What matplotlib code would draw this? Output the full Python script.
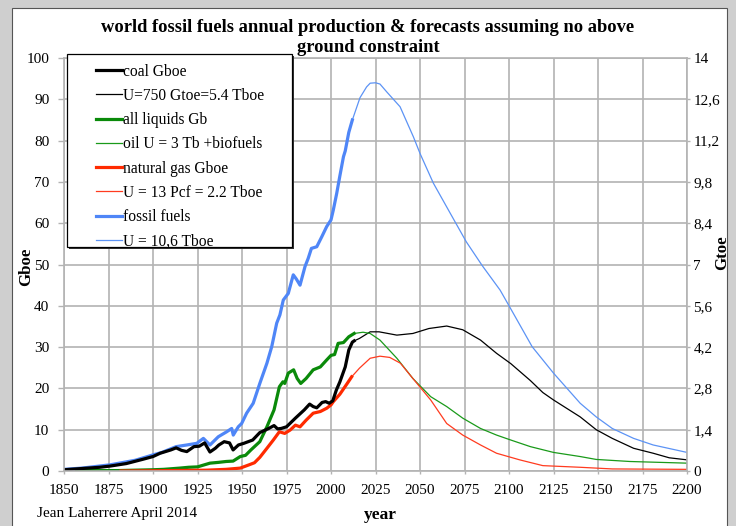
import matplotlib
matplotlib.use('Agg')
import matplotlib.pyplot as plt
from matplotlib.patches import Rectangle
from matplotlib.ticker import FixedLocator
from matplotlib.legend_handler import HandlerLine2D

# historical production (thick lines)
coal_years = [1850, 1860, 1870, 1876, 1885, 1894, 1900, 1904, 1910, 1913, 1916, 1919, 1923, 1926,
              1929, 1932, 1935, 1937, 1940, 1943, 1945, 1948, 1951, 1956, 1960, 1965, 1968, 1970,
              1972, 1975, 1980, 1985, 1988, 1990, 1992, 1995, 1997, 1999, 2001, 2003, 2005, 2008,
              2010, 2012, 2013]
coal_vals = [0.3, 0.6, 0.9, 1.2, 1.8, 2.8, 3.5, 4.3, 5.1, 5.6, 5.0, 4.7, 5.9, 6.0,
             6.8, 4.6, 5.5, 6.3, 7.1, 6.8, 5.1, 6.3, 6.7, 7.5, 9.3, 10.3, 11.0, 10.2,
             10.3, 10.7, 12.8, 14.8, 16.2, 15.6, 15.3, 16.6, 16.8, 16.4, 17.0, 19.6, 21.6, 25.2,
             29.3, 31.2, 31.5]

liq_years = [1857, 1880, 1900, 1906, 1915, 1920, 1925, 1932, 1937, 1941, 1945, 1949, 1952, 1955,
             1960, 1964, 1968, 1971, 1973, 1974, 1976, 1979, 1981, 1983, 1986, 1990, 1994, 1997.6,
             2000, 2002, 2004, 2007, 2010, 2013]
liq_vals = [0.1, 0.1, 0.3, 0.4, 0.7, 0.9, 1.0, 1.9, 2.1, 2.3, 2.4, 3.5, 3.8, 5.1,
            7.1, 10.7, 14.8, 20.4, 21.6, 21.2, 23.7, 24.5, 22.4, 21.2, 22.4, 24.5, 25.2, 26.9,
            28.0, 28.2, 30.9, 31.1, 32.5, 33.3]

gas_years = [1882, 1900, 1930, 1941, 1949, 1954, 1957, 1960, 1964, 1967.6, 1971, 1974, 1977, 1980,
             1982.6, 1986, 1990, 1994, 1997.6, 2000, 2001.3, 2005, 2008.8, 2011.6]
gas_vals = [0.0, 0.05, 0.2, 0.4, 0.7, 1.5, 2.0, 3.3, 5.5, 7.5, 9.5, 9.1, 9.9, 11.1,
            10.7, 12.3, 14.0, 14.4, 15.2, 16.0, 16.8, 18.6, 21.0, 22.8]

ff_years = [1850, 1860, 1876, 1890, 1900, 1905, 1913, 1919, 1924.6, 1928.3, 1932, 1936.7, 1941.4,
            1944.2, 1945.1, 1947.9, 1949.8, 1952.6, 1956.3, 1960, 1964, 1966.7, 1969.5, 1971.3,
            1973.2, 1976, 1978.8, 1980.5, 1982.6, 1985.4, 1987.2, 1989, 1992, 1994.8, 1997.6,
            2000, 2001.3, 2003.2, 2005, 2007, 2008, 2010, 2012]
ff_vals = [0.4, 0.7, 1.5, 2.6, 3.9, 4.5, 5.9, 6.3, 6.7, 7.9, 6.3, 8.3, 9.5,
           10.3, 8.7, 10.7, 11.5, 14.0, 16.4, 21.2, 26.1, 30.1, 35.8, 37.8,
           41.4, 43.0, 47.5, 46.5, 45.0, 49.5, 51.5, 53.9, 54.3, 56.7, 59.2,
           60.8, 63.2, 67.2, 71.5, 76.1, 77.5, 82.0, 85.0]

# forecasts (thin lines)
coal_fc_years = [2013, 2016, 2022, 2027, 2032, 2037, 2046, 2055, 2065, 2074, 2084, 2093, 2101,
                 2112, 2119, 2125, 2140, 2149, 2158, 2170, 2181, 2190, 2200]
coal_fc_vals = [31.5, 32.1, 33.7, 33.7, 33.3, 32.9, 33.3, 34.5, 35.1, 34.2, 31.7, 28.5, 26.0,
                21.9, 19.0, 17.2, 13.1, 10.0, 7.9, 5.5, 4.3, 3.2, 2.7]

liq_fc_years = [2013, 2018, 2022, 2027.5, 2037, 2046, 2056, 2065, 2074, 2084, 2093, 2101, 2112,
                2125, 2140, 2149, 2168, 2200]
liq_fc_vals = [33.3, 33.6, 33.3, 31.7, 27.3, 22.4, 18.0, 15.6, 12.8, 10.3, 8.7, 7.5, 5.9,
               4.5, 3.5, 2.8, 2.3, 1.9]

gas_fc_years = [2011.6, 2016, 2022, 2027.5, 2033, 2039, 2046, 2056, 2065, 2074, 2084, 2093, 2106,
                2119, 2140, 2158, 2200]
gas_fc_vals = [22.8, 24.9, 27.3, 27.8, 27.5, 26.1, 22.4, 17.2, 11.5, 8.7, 6.3, 4.3, 2.7,
               1.3, 0.9, 0.5, 0.4]

ff_fc_years = [2012, 2016.3, 2020, 2022, 2025, 2027.5, 2031.3, 2038.8, 2042.5, 2046.3, 2050,
               2057.5, 2067, 2076, 2085, 2095, 2102, 2113, 2125, 2140, 2149, 2158, 2170, 2181, 2200]
ff_fc_vals = [85.0, 90.4, 93.0, 93.9, 94.0, 93.7, 91.8, 88.2, 84.6, 80.9, 76.9,
              69.7, 62.4, 55.5, 49.7, 43.8, 38.5, 30.1, 23.7, 16.4, 13.1, 10.3, 7.9, 6.3, 4.5]

x_ticks = list(range(1850, 2201, 25))
right_ticks = [0, 1.4, 2.8, 4.2, 5.6, 7, 8.4, 9.8, 11.2, 12.6, 14]
right_labels = ['0', '1,4', '2,8', '4,2', '5,6', '7', '8,4', '9,8', '11,2', '12,6', '14']

plt.rcParams['font.family'] = ['Liberation Serif', 'DejaVu Serif']

W, H = 736, 526
fig = plt.figure(figsize=(W / 100, H / 100), dpi=100)
fig.patch.set_facecolor('#cfcfcf')


def px(x, y):
    # pixel position (from top-left) -> figure fraction
    return x / W, 1 - y / H


# white panel with a thin frame, behind everything
fig.add_artist(Rectangle((12 / W, -0.01), 715 / W, 1 - 8 / H + 0.01,
                         transform=fig.transFigure, facecolor='white',
                         edgecolor='#555555', linewidth=0.8, zorder=-10))

ax = fig.add_axes([64 / W, 55 / H, 623 / W, 413 / H])
ax.set_zorder(1)
grid_c = '#b3b3b3'

ax.plot(coal_fc_years, coal_fc_vals, color='black', lw=0.9, label='U=750 Gtoe=5.4 Tboe')
ax.plot(liq_fc_years, liq_fc_vals, color='#1a9a1a', lw=0.9, label='oil U = 3 Tb +biofuels')
ax.plot(gas_fc_years, gas_fc_vals, color='#ff3b1f', lw=0.9, label='U = 13 Pcf = 2.2 Tboe')
ax.plot(ff_fc_years, ff_fc_vals, color='#5c93f5', lw=0.9, label='U = 10,6 Tboe')

ax.plot(ff_years, ff_vals, color='#4f86f7', lw=2.3, label='fossil fuels')
ax.plot(liq_years, liq_vals, color='#0a8a0a', lw=2.3, label='all liquids Gb')
ax.plot(gas_years, gas_vals, color='#ff2a00', lw=2.3, label='natural gas Gboe')
ax.plot(coal_years, coal_vals, color='black', lw=2.3, label='coal Gboe')

ax.set_xlim(1850, 2200)
ax.set_ylim(0, 100)
ax.set_xticks(x_ticks)
ax.set_yticks(range(0, 101, 10))
ax.grid(True, color=grid_c, lw=1.2)
ax.set_axisbelow(True)
ax.patch.set_alpha(0)
for s in ax.spines.values():
    s.set_color(grid_c)
    s.set_linewidth(1.2)
ax.tick_params(colors=grid_c, labelcolor='black', labelsize=11, width=1)
ax.tick_params(axis='y', length=4.5, pad=6)
ax.tick_params(axis='x', length=2.5, pad=7)

ax2 = ax.twinx()
ax2.set_zorder(2)
ax2.patch.set_visible(False)
ax2.set_ylim(0, 14)
ax2.yaxis.set_major_locator(FixedLocator(right_ticks))
ax2.set_yticklabels(right_labels)
ax2.tick_params(colors=grid_c, labelcolor='black', labelsize=11, length=2.5, width=1, pad=2)
for s in ax2.spines.values():
    s.set_visible(False)

# axis titles placed where the reference has them
fig.text(*px(26, 267), 'Gboe', rotation=90, ha='center', va='center', fontsize=12.2, fontweight='bold')
fig.text(*px(722, 253), 'Gtoe', rotation=90, ha='center', va='center', fontsize=12.2, fontweight='bold')
fig.text(*px(380, 515), 'year', ha='center', va='center', fontsize=12.5, fontweight='bold')

# legend box (white, black border, small dark shadow) and entries
fig.add_artist(Rectangle(px(69, 249), 225 / W, 193 / H, transform=fig.transFigure,
                         facecolor='#333333', edgecolor='none', zorder=3))
fig.add_artist(Rectangle(px(67, 247), 225 / W, 193 / H, transform=fig.transFigure,
                         facecolor='white', edgecolor='black', linewidth=0.9, zorder=3.1))

handles, labels = ax.get_legend_handles_labels()
order = ['coal Gboe', 'U=750 Gtoe=5.4 Tboe', 'all liquids Gb', 'oil U = 3 Tb +biofuels',
         'natural gas Gboe', 'U = 13 Pcf = 2.2 Tboe', 'fossil fuels', 'U = 10,6 Tboe']
hmap = dict(zip(labels, handles))
leg = fig.legend([hmap[k] for k in order], order, loc='upper left',
                 bbox_to_anchor=px(67, 59), fontsize=11.2, frameon=False,
                 borderpad=0.3, labelspacing=0.53, handlelength=3.23,
                 handletextpad=0.06, borderaxespad=0,
                 handler_map={h: HandlerLine2D(xpad=1.56) for h in handles})
leg.set_zorder(4)

fig.text(0.5, 1 - 27 / H, 'world fossil fuels annual production & forecasts assuming no above',
         ha='center', va='center', fontsize=13.3, fontweight='bold')
fig.text(*px(368, 48), 'ground constraint', ha='center', va='center',
         fontsize=13.3, fontweight='bold', zorder=20)
fig.text(*px(37, 513), 'Jean Laherrere April 2014', ha='left', va='center', fontsize=11)

fig.savefig('out.png', dpi=100, facecolor=fig.get_facecolor())
